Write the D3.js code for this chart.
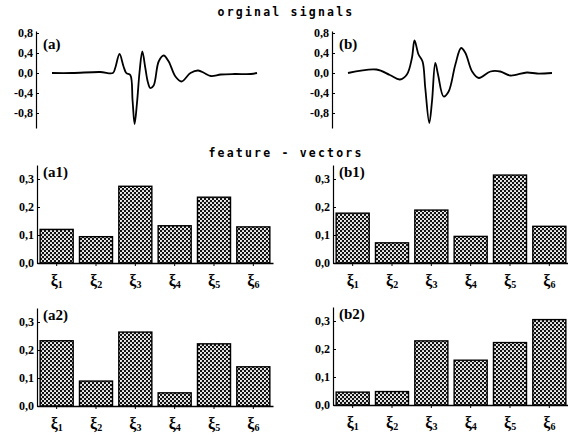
<!DOCTYPE html>
<html>
<head>
<meta charset="utf-8">
<script src="https://cdn.jsdelivr.net/npm/d3@7"></script>
<style>
  body { margin: 0; background: #fff; }
  text { font-family: "Liberation Serif", serif; font-weight: bold; }
</style>
</head>
<body>
<svg id="chart" width="568" height="435"></svg>
<script>
// signal (a): sample time vs amplitude
var sigTimeA = [0, 20, 48, 60.7, 63, 67.3, 71.3, 74, 78, 80.3, 82.3, 84.7, 87.3, 90, 93, 95.5, 98, 101.3, 106.3, 111.3, 116.3, 123, 129, 138, 145.7, 151.7, 158.3, 168.3, 181.7, 198.3, 204.3];
var sigA =     [0, 0, 0.02, 0, 0.1, 0.38, 0.13, 0, -0.04, -0.55, -1.02, -0.6, 0.03, 0.43, 0.1, -0.18, -0.3, -0.25, 0.23, 0.35, 0.23, -0.07, -0.17, 0, 0.05, 0, -0.06, -0.03, -0.02, -0.02, 0];

// signal (b)
var sigTimeB = [0, 28.3, 41.7, 51.7, 58.7, 63.7, 66.3, 70.3, 74.3, 77, 81, 83.7, 87, 89.7, 95.3, 100.3, 107, 112.7, 117, 123.7, 130.3, 142, 151.7, 161.7, 178.3, 188.3, 203.3];
var sigB =     [0, 0.07, -0.04, -0.13, -0.03, 0.3, 0.65, 0.37, 0.23, -0.3, -1.0, -0.57, 0.2, -0.03, -0.47, -0.37, 0.17, 0.5, 0.4, 0.03, -0.1, 0.03, 0.03, -0.05, 0.01, -0.01, 0];

var signalTicks = [0.8, 0.4, 0.0, -0.4, -0.8];

// feature vectors
var features = ["1", "2", "3", "4", "5", "6"];
var featA1 = [0.12, 0.094, 0.274, 0.133, 0.235, 0.129];
var featB1 = [0.178, 0.072, 0.189, 0.095, 0.314, 0.131];
var featA2 = [0.233, 0.089, 0.264, 0.047, 0.222, 0.14];
var featB2 = [0.046, 0.048, 0.229, 0.16, 0.223, 0.305];
var barTicks = [0.0, 0.1, 0.2, 0.3];

var svg = d3.select("#chart");

function fmt(v) {
    return d3.format(".1f")(v).replace(".", ",").replace("\u2212", "-");
}

// crosshatch fill
var pat = svg.append("defs").append("pattern")
    .attr("id", "hatch")
    .attr("patternUnits", "userSpaceOnUse")
    .attr("width", 4).attr("height", 4);
pat.append("rect").attr("width", 4).attr("height", 4).attr("fill", "#111");
pat.append("circle").attr("cx", 1).attr("cy", 1).attr("r", 1.05).attr("fill", "#fff");
pat.append("circle").attr("cx", 3).attr("cy", 3).attr("r", 1.05).attr("fill", "#fff");

// titles
function title(y, s) {
    svg.append("text")
        .attr("x", 286).attr("y", y)
        .attr("text-anchor", "middle")
        .style("font-family", "DejaVu Sans Mono")
        .style("font-weight", "bold")
        .style("font-size", "11.5px")
        .style("letter-spacing", "2.2px")
        .text(s);
}
title(16, "orginal signals");
title(157, "feature - vectors");

function signalPanel(axisX, x0, x1, times, vals, label) {
    var x = d3.scaleLinear().domain([0, 204.3]).range([x0, x1]);
    var y = d3.scaleLinear().domain([-1.1, 0.84]).range([128, 31]);

    var g = svg.append("g");
    var ax = g.append("g")
        .attr("transform", "translate(" + axisX + ",0)")
        .call(d3.axisLeft(y).tickValues(signalTicks).tickSizeInner(-3).tickSizeOuter(0).tickPadding(3).tickFormat(fmt));
    ax.select(".domain").attr("stroke-width", 1.2);
    ax.selectAll("text").style("font-size", "12px").attr("font-family", null);

    var pts = times.map(function(t, i) { return [t, vals[i]]; });
    g.append("path")
        .datum(pts)
        .attr("fill", "none")
        .attr("stroke", "#000")
        .attr("stroke-width", 1.8)
        .attr("d", d3.line()
            .x(function(d) { return x(d[0]); })
            .y(function(d) { return y(d[1]); })
            .curve(d3.curveCatmullRom.alpha(0.5)));

    g.append("text")
        .attr("x", axisX + 7).attr("y", 49)
        .style("font-size", "15px")
        .text(label);
}

signalPanel(36, 52, 257, sigTimeA, sigA, "(a)");
signalPanel(332, 348, 553, sigTimeB, sigB, "(b)");

function barPanel(axisX, x1, base, vals, label) {
    var y = d3.scaleLinear().domain([0, 0.35]).range([base, base - 98]);
    var x = d3.scaleBand().domain(features).range([axisX, x1])
        .paddingInner(0.16).paddingOuter(0.08);

    var g = svg.append("g");

    g.selectAll("rect")
        .data(vals)
        .enter()
        .append("rect")
        .attr("x", function(d, i) { return x(features[i]); })
        .attr("width", x.bandwidth())
        .attr("y", function(d) { return y(d); })
        .attr("height", function(d) { return base - y(d); })
        .attr("fill", "url(#hatch)")
        .attr("stroke", "#000")
        .attr("stroke-width", 1.4);

    var ay = g.append("g")
        .attr("transform", "translate(" + axisX + ",0)")
        .call(d3.axisLeft(y).tickValues(barTicks).tickSizeInner(-3).tickSizeOuter(0).tickPadding(3).tickFormat(fmt));
    ay.select(".domain").attr("stroke-width", 1.2);
    ay.selectAll("text").style("font-size", "12px").attr("font-family", null);

    var ax = g.append("g")
        .attr("transform", "translate(0," + base + ")")
        .call(d3.axisBottom(x).tickSizeInner(3).tickSizeOuter(0).tickFormat(""));
    ax.select(".domain").attr("stroke-width", 1.6);

    g.selectAll("text.cat")
        .data(features)
        .enter()
        .append("text")
        .attr("class", "cat")
        .attr("x", function(d) { return x(d) + x.bandwidth() / 2 - 6; })
        .attr("y", base + 23)
        .style("font-size", "16px")
        .text("\u03be")
        .append("tspan")
        .attr("dy", 2)
        .style("font-size", "10px")
        .text(function(d) { return d; });

    g.append("text")
        .attr("x", axisX + 6).attr("y", base - 86)
        .style("font-size", "15px")
        .text(label);
}

barPanel(37, 273, 263, featA1, "(a1)");
barPanel(333, 569, 263, featB1, "(b1)");
barPanel(37, 273, 406, featA2, "(a2)");
barPanel(333, 569, 405, featB2, "(b2)");
</script>
</body>
</html>
